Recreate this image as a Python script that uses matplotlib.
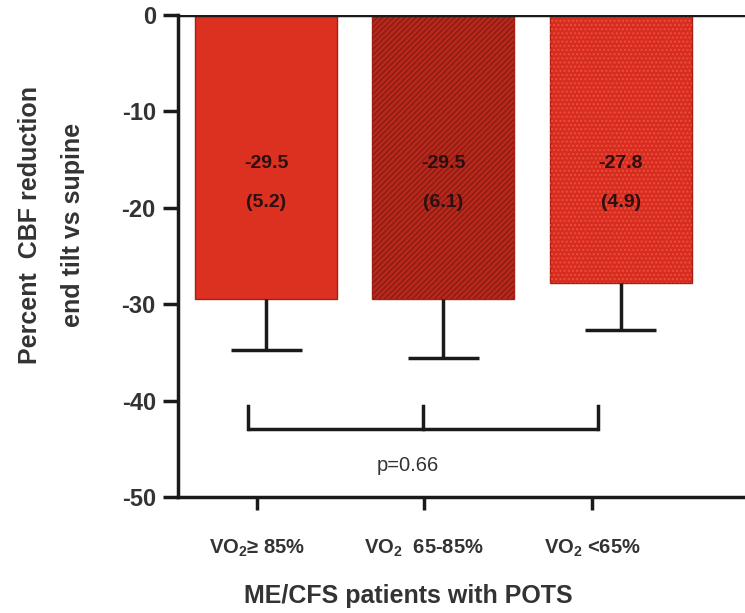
import matplotlib
matplotlib.use("Agg")
import matplotlib.pyplot as plt
import numpy as np

# data
groups = [r"VO$_\mathbf{2}$≥ 85%", r"VO$_\mathbf{2}$  65-85%", r"VO$_\mathbf{2}$ <65%"]
means = [-29.5, -29.5, -27.8]
sds = [5.2, 6.1, 4.9]
p_label = "p=0.66"

bar_colors = ["#dc3020", "#b8281c", "#d82c20"]
hatches = [None, "//////", "...."]
hatch_colors = [None, "#8a1c12", "#e8503c"]

plt.rcParams["font.family"] = ["Liberation Sans", "DejaVu Sans"]
plt.rcParams["font.weight"] = "bold"
plt.rcParams["axes.unicode_minus"] = False
plt.rcParams["mathtext.fontset"] = "custom"
plt.rcParams["mathtext.rm"] = "Liberation Sans"
plt.rcParams["mathtext.bf"] = "Liberation Sans:bold"

fig = plt.figure(figsize=(7.45, 6.13), dpi=100)
ax = fig.add_axes([0.239, 0.189, 0.761, 0.7865])

x = np.arange(len(groups))
cap_half = 0.2
for i in range(len(groups)):
    ax.bar(x[i], means[i], width=0.80, color=bar_colors[i],
           edgecolor="#a82014", linewidth=1, zorder=2)
    if hatches[i]:
        ax.bar(x[i], means[i], width=0.80, color="none",
               edgecolor=hatch_colors[i], hatch=hatches[i], linewidth=0, zorder=3)
    # one-sided error bar (downwards only)
    low = means[i] - sds[i]
    ax.vlines(x[i], low, means[i], color="#1a1a1a", lw=2.5, zorder=4)
    ax.hlines(low, x[i] - cap_half, x[i] + cap_half, color="#1a1a1a", lw=2.5, zorder=4)
    ax.text(x[i], -15.4, f"{means[i]:.1f}", ha="center", va="center",
            fontsize=14, fontweight="bold", color="#2a1010", zorder=5)
    ax.text(x[i], -19.4, f"({sds[i]:.1f})", ha="center", va="center",
            fontsize=14, fontweight="bold", color="#2a1010", zorder=5)

# comparison bracket
brk_x = [-0.10, 0.885, 1.87]
brk_y, brk_top = -42.9, -40.5
ax.plot([brk_x[0], brk_x[-1]], [brk_y, brk_y], color="#1a1a1a", lw=2.5,
        solid_capstyle="butt", zorder=4)
for bx in brk_x:
    ax.plot([bx, bx], [brk_y, brk_top], color="#1a1a1a", lw=2.5, zorder=4)
ax.text(0.80, -46.7, p_label, ha="center", va="center", fontsize=14.5,
        fontweight="normal", color="#333333")

ax.axhline(0, color="#1a1a1a", lw=2.5, zorder=6)

ax.set_xlim(-0.496, 2.70)
ax.set_ylim(-50, 0)
ax.set_yticks([0, -10, -20, -30, -40, -50])
ax.set_xticks([-0.05, 0.89, 1.84])
ax.set_xticklabels(groups)

for s in ["top", "right"]:
    ax.spines[s].set_visible(False)
for s in ["left", "bottom"]:
    ax.spines[s].set_linewidth(2.5)
    ax.spines[s].set_color("#1a1a1a")

ax.tick_params(axis="y", length=11, width=2.5, labelsize=17, colors="#1a1a1a",
               labelcolor="#333333", pad=5)
ax.tick_params(axis="x", length=9, width=2.5, labelsize=14.5, colors="#1a1a1a",
               labelcolor="#333333", pad=20)

ax.set_ylabel("Percent  CBF reduction\nend tilt vs supine", fontsize=18,
              fontweight="bold", color="#333333", linespacing=2.0)
ax.yaxis.set_label_coords(-0.164, 0.564)
ax.set_xlabel("ME/CFS patients with POTS", fontsize=18, fontweight="bold",
              color="#333333")
ax.xaxis.set_label_coords(0.406, -0.18)

fig.savefig("out.png", dpi=100)
